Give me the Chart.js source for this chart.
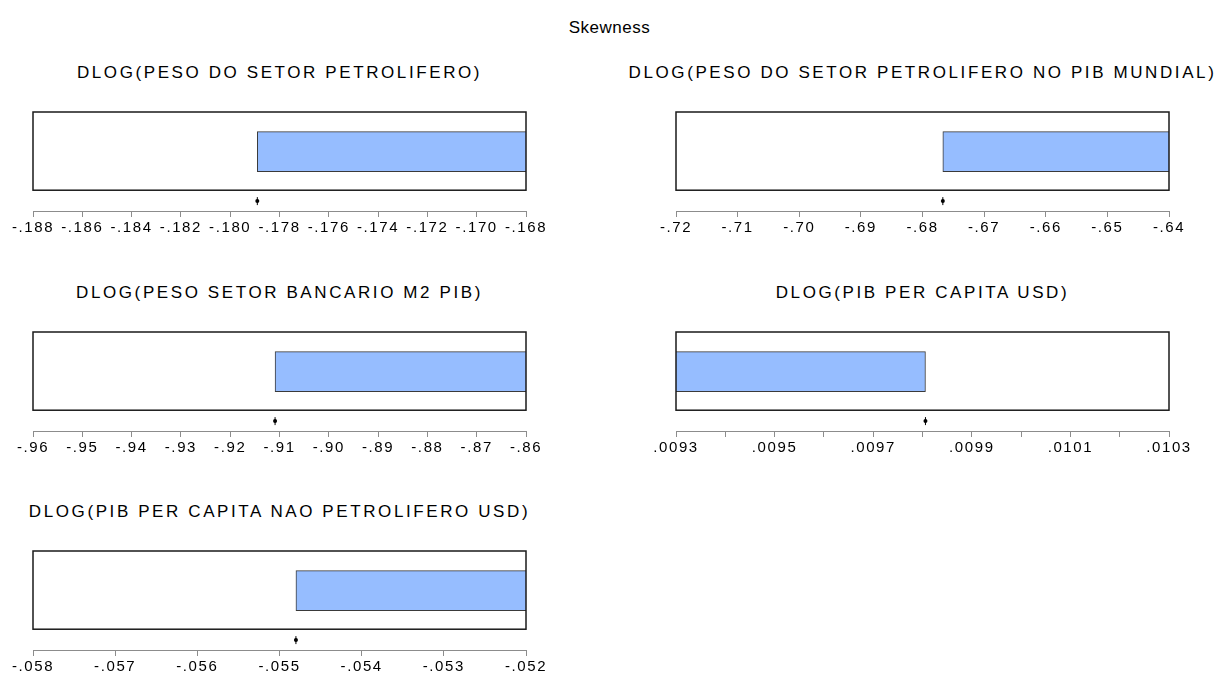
<!DOCTYPE html>
<html>
<head>
<meta charset="utf-8">
<script src="https://cdn.jsdelivr.net/npm/chart.js@4.4.1/dist/chart.umd.min.js"></script>
<style>
  html, body { margin: 0; padding: 0; background: #ffffff; }
  #page { position: relative; width: 1219px; height: 675px; overflow: hidden; background: #fff; font-family: "Liberation Sans", Arial, sans-serif; color: #000; }
  .main-title { position: absolute; left: 0; width: 1219px; top: 18px; text-align: center; font-size: 17px; letter-spacing: 0.5px; line-height: 20px; }
  .panel-title { position: absolute; width: 700px; text-align: center; font-size: 17px; letter-spacing: 2.6px; line-height: 20px; white-space: nowrap; }
  .panel-canvas { position: absolute; width: 560px; height: 140px; }
</style>
</head>
<body>
<div id="page">
  <div class="main-title" id="mainTitle"></div>
</div>
<script>
// ---------------- data ----------------
const chartTitle = "Skewness";
const panelTitles = [
  "DLOG(PESO DO SETOR PETROLIFERO)",
  "DLOG(PESO DO SETOR PETROLIFERO NO PIB MUNDIAL)",
  "DLOG(PESO SETOR BANCARIO M2 PIB)",
  "DLOG(PIB PER CAPITA USD)",
  "DLOG(PIB PER CAPITA NAO PETROLIFERO USD)"
];
const skewValues = [-0.1789, -0.6767, -0.9109, 0.009806, -0.0548];

const ticks1 = [-0.188, -0.186, -0.184, -0.182, -0.180, -0.178, -0.176, -0.174, -0.172, -0.170, -0.168];
const labels1 = ["-.188", "-.186", "-.184", "-.182", "-.180", "-.178", "-.176", "-.174", "-.172", "-.170", "-.168"];
const ticks2 = [-0.72, -0.71, -0.70, -0.69, -0.68, -0.67, -0.66, -0.65, -0.64];
const labels2 = ["-.72", "-.71", "-.70", "-.69", "-.68", "-.67", "-.66", "-.65", "-.64"];
const ticks3 = [-0.96, -0.95, -0.94, -0.93, -0.92, -0.91, -0.90, -0.89, -0.88, -0.87, -0.86];
const labels3 = ["-.96", "-.95", "-.94", "-.93", "-.92", "-.91", "-.90", "-.89", "-.88", "-.87", "-.86"];
const ticks4 = [0.0093, 0.0094, 0.0095, 0.0096, 0.0097, 0.0098, 0.0099, 0.0100, 0.0101, 0.0102, 0.0103];
const labels4 = [".0093", "", ".0095", "", ".0097", "", ".0099", "", ".0101", "", ".0103"];
const ticks5 = [-0.058, -0.057, -0.056, -0.055, -0.054, -0.053, -0.052];
const labels5 = ["-.058", "-.057", "-.056", "-.055", "-.054", "-.053", "-.052"];

const panelTicks = [ticks1, ticks2, ticks3, ticks4, ticks5];
const panelTickLabels = [labels1, labels2, labels3, labels4, labels5];

// ---------------- layout (styles only) ----------------
const panelPos = [
  { left: 0, boxTop: 111 },
  { left: 643, boxTop: 111 },
  { left: 0, boxTop: 331 },
  { left: 643, boxTop: 331 },
  { left: 0, boxTop: 550 }
];
const CANVAS_PAD_TOP = 4;
const Y_MAX = 100;
const BOX_BOTTOM = 21;
const BAR_LEVEL = 60;
const MARK_LEVEL = 10;

document.getElementById('mainTitle').textContent = chartTitle;

const boxPlugin = {
  id: 'boxPlugin',
  beforeDraw(chart) {
    chart.ctx.letterSpacing = '1.6px';
  },
  afterDatasetsDraw(chart) {
    const { ctx, chartArea, scales } = chart;
    const yb = scales.y.getPixelForValue(BOX_BOTTOM);
    ctx.save();
    ctx.strokeStyle = '#1a1a1a';
    ctx.lineWidth = 1.5;
    ctx.strokeRect(chartArea.left, chartArea.top, chartArea.right - chartArea.left, yb - chartArea.top);
    ctx.restore();
  }
};

const page = document.getElementById('page');

panelTitles.forEach((title, i) => {
  const pos = panelPos[i];
  const t = document.createElement('div');
  t.className = 'panel-title';
  t.textContent = title;
  const boxCenter = pos.left + 33 + (526 - 33) / 2;
  t.style.left = (boxCenter - 350) + 'px';
  t.style.top = (pos.boxTop - 48) + 'px';
  page.appendChild(t);

  const c = document.createElement('canvas');
  c.className = 'panel-canvas';
  c.style.left = pos.left + 'px';
  c.style.top = (pos.boxTop - CANVAS_PAD_TOP) + 'px';
  c.width = 560; c.height = 140;
  page.appendChild(c);

  const tv = panelTicks[i];
  const tl = panelTickLabels[i];
  const v = skewValues[i];

  new Chart(c, {
    type: 'bar',
    data: {
      datasets: [
        {
          type: 'bar',
          data: [{ x: v, y: BAR_LEVEL }],
          backgroundColor: 'rgb(150,189,255)',
          borderColor: '#3a3a3a',
          borderWidth: 1,
          borderSkipped: 'start',
          barThickness: 40
        },
        {
          type: 'scatter',
          data: [{ x: v, y: MARK_LEVEL }],
          pointStyle: 'line',
          rotation: 90,
          radius: 4,
          borderColor: '#000',
          borderWidth: 1
        },
        {
          type: 'scatter',
          data: [{ x: v, y: MARK_LEVEL }],
          pointStyle: 'circle',
          radius: 2,
          backgroundColor: '#000',
          borderColor: '#000',
          borderWidth: 0
        }
      ]
    },
    options: {
      indexAxis: 'y',
      responsive: false,
      animation: false,
      devicePixelRatio: 1,
      layout: { padding: { top: CANVAS_PAD_TOP - 1, left: 33, right: 34, bottom: 8 } },
      plugins: { legend: { display: false }, tooltip: { enabled: false }, title: { display: false } },
      scales: {
        x: {
          type: 'linear',
          offset: false,
          beginAtZero: false,
          min: tv[0],
          max: tv[tv.length - 1],
          afterBuildTicks(scale) { scale.ticks = tv.map(val => ({ value: val })); },
          ticks: {
            autoSkip: false,
            maxRotation: 0,
            minRotation: 0,
            padding: 2,
            color: '#000',
            font: { family: '"Liberation Sans", Arial, sans-serif', size: 15 },
            callback: (val, idx) => tl[idx]
          },
          grid: { offset: false, drawOnChartArea: false, drawTicks: true, tickLength: 6, color: '#8c8c8c', lineWidth: 1 },
          border: { display: true, color: '#8c8c8c', width: 1 }
        },
        y: {
          type: 'linear',
          offset: false,
          display: false,
          grid: { offset: false },
          min: 0,
          max: Y_MAX
        }
      }
    },
    plugins: [boxPlugin]
  });
});
</script>
</body>
</html>
